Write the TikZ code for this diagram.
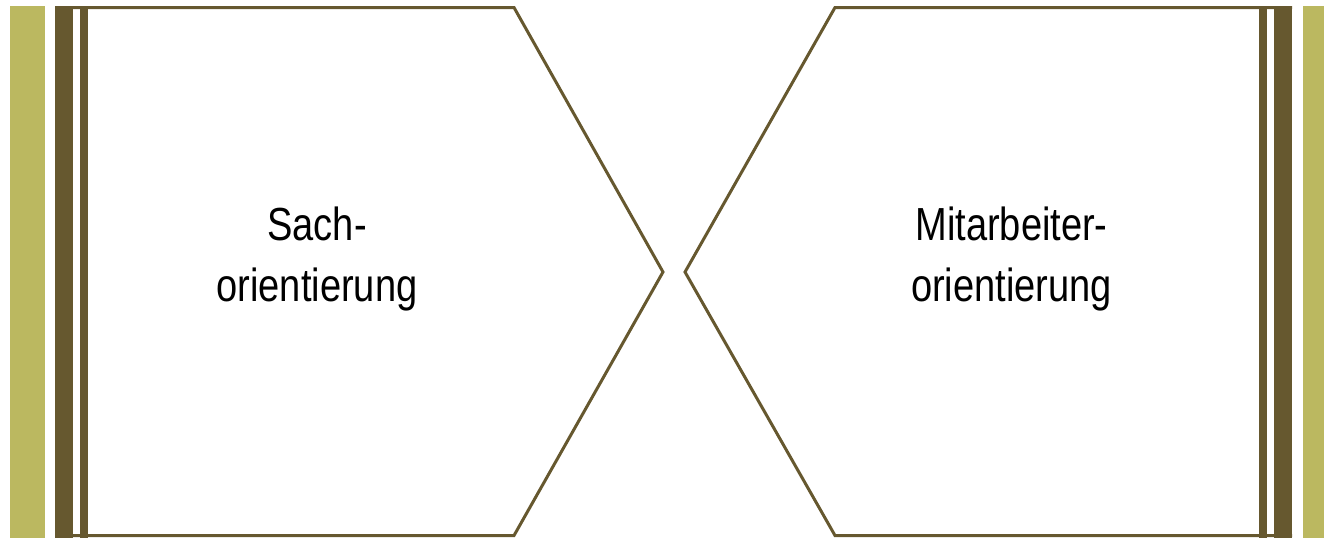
\documentclass[tikz,border=0pt]{standalone}
\usepackage{fontspec}
\setmainfont{Liberation Sans}
\newfontfamily\schmal[FakeStretch=0.82]{Liberation Sans}
\definecolor{oliv}{RGB}{187,184,96}
\definecolor{braun}{RGB}{102,88,47}
\begin{document}
\begin{tikzpicture}[x=0.02cm, y=-0.02cm,
  leiste/.style={fill=oliv, draw=none},
  balken/.style={fill=braun, draw=none},
  rahmen/.style={draw=braun, line width=0.06cm, line join=miter},
  label/.style={align=center, font=\schmal\fontsize{26.4}{35.2}\selectfont}
]
  \useasboundingbox (0,0) rectangle (1324,538);
  \clip (0,0) rectangle (1324,538);
  % linke Seite
  \fill[leiste] (10,6) rectangle (45,538);
  \fill[balken] (55,6) rectangle (73,538);
  \fill[balken] (80,6) rectangle (88,538);
  \draw[rahmen] (55,7.5) -- (514,7.5) -- (663,272) -- (514,535.5) -- (55,535.5);
  \node[label] (sach) at (317,259) {Sach-\\orientierung};
  % rechte Seite
  \fill[leiste] (1303,6) rectangle (1338,538);
  \fill[balken] (1274,6) rectangle (1292,538);
  \fill[balken] (1259,6) rectangle (1267,538);
  \draw[rahmen] (1292,7.5) -- (835,7.5) -- (685,272) -- (835,535.5) -- (1292,535.5);
  \node[label] (mitarb) at (1011.5,259) {Mitarbeiter-\\orientierung};
\end{tikzpicture}
\end{document}
